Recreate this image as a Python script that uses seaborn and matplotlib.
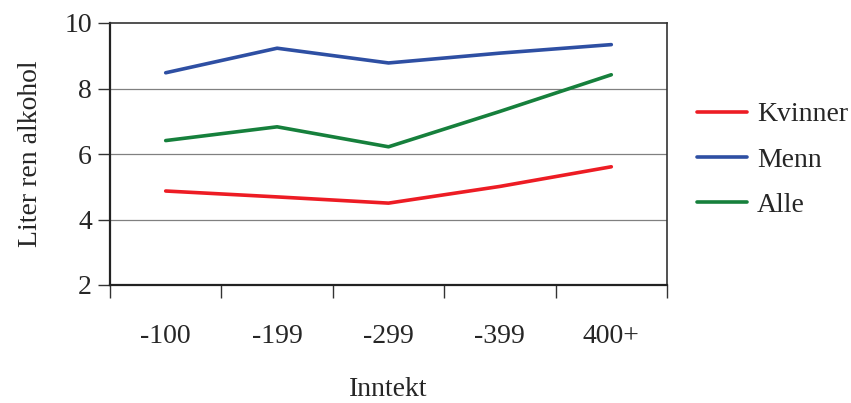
import matplotlib
matplotlib.use("Agg")
import matplotlib.pyplot as plt
import seaborn as sns
import pandas as pd
import numpy as np
from matplotlib.lines import Line2D

categories = ["-100", "-199", "-299", "-399", "400+"]
kvinner = [4.87, 4.69, 4.50, 5.01, 5.61]
menn = [8.48, 9.23, 8.78, 9.08, 9.34]
alle = [6.41, 6.83, 6.22, 7.30, 8.42]
series_names = ["Kvinner", "Menn", "Alle"]
colors = ["#ed1c24", "#2e4fa3", "#16803c"]
y_ticks = [2, 4, 6, 8, 10]

rows = []
for name, vals in zip(series_names, [kvinner, menn, alle]):
    for i, v in enumerate(vals):
        rows.append({"Inntekt": i, "Verdi": v, "Serie": name})
df = pd.DataFrame(rows)

sns.set_style("white")
plt.rcParams["font.family"] = ["Liberation Serif", "DejaVu Serif"]
FS = 20

fig = plt.figure(figsize=(8.51, 4.03), dpi=100)
ax = fig.add_axes([110/851, 1 - 285/403, (667-110)/851, (285-23)/403])

sns.lineplot(data=df, x="Inntekt", y="Verdi", hue="Serie", hue_order=series_names,
             palette=colors, linewidth=2.6, ax=ax, legend=False)

ax.set_xlim(-0.5, 4.5)
ax.set_ylim(2, 10)
ax.set_yticks(y_ticks)
ax.set_yticklabels([str(t) for t in y_ticks], fontsize=FS)
for t in [4, 6, 8]:
    ax.axhline(t, color="#808080", linewidth=0.9, zorder=0)

ax.set_xticks(range(len(categories)))
ax.set_xticklabels(categories, fontsize=FS)
ax.tick_params(axis="x", which="major", bottom=True, length=0, pad=28)
ax.set_xticks(np.arange(-0.5, 5.0, 1.0), minor=True)
ax.tick_params(axis="x", which="minor", bottom=True, length=9, width=1.0, color="#333333", direction="out")
ax.tick_params(axis="y", which="major", left=True, length=9, width=1.0, color="#333333", direction="out", pad=4)

for s in ["left", "bottom"]:
    ax.spines[s].set_color("#222222")
    ax.spines[s].set_linewidth(1.6)
for s in ["top", "right"]:
    ax.spines[s].set_color("#333333")
    ax.spines[s].set_linewidth(1.2)
    ax.spines[s].set_visible(True)

ax.set_xlabel("Inntekt", fontsize=FS, labelpad=20)
ax.set_ylabel("Liter ren alkohol", fontsize=FS, labelpad=15)

handles = [Line2D([0], [0], color=c, linewidth=2.6) for c in colors]
fig.legend(handles, series_names, loc="center left", bbox_to_anchor=(697/851, 1 - 160/403),
           frameon=False, fontsize=FS, handlelength=1.8, handletextpad=0.35,
           labelspacing=0.72, borderpad=0, borderaxespad=0)

fig.savefig("out.png", dpi=100)
